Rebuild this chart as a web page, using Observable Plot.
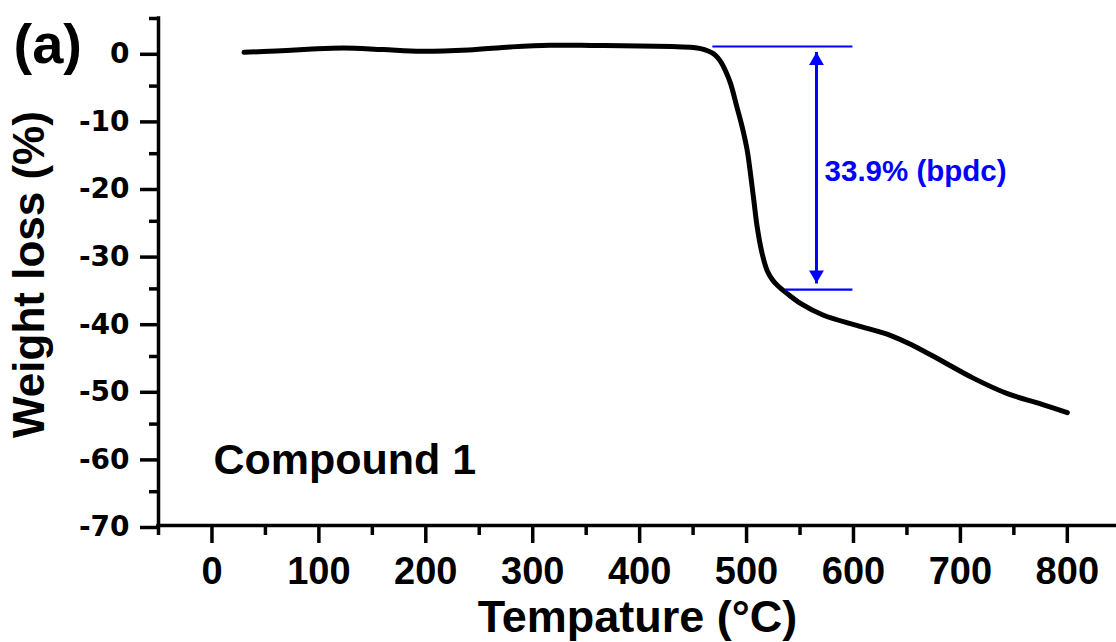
<!DOCTYPE html>
<html><head><meta charset="utf-8">
<script src="https://cdn.jsdelivr.net/npm/d3@7"></script>
<script src="https://cdn.jsdelivr.net/npm/@observablehq/plot@0.6"></script>
<style>html,body{margin:0;padding:0;background:#fff} svg{display:block}</style>
</head><body><div id="chart"></div>
<script>
// TGA curve (temperature °C, weight change %)
const temperature = [30, 60, 90, 123, 160, 196, 240, 280, 316, 360, 400, 430, 450, 457, 464, 469, 473, 477, 481, 485, 491, 496, 500.6, 503.7, 506.8, 510, 514.6, 519.3, 524, 529, 538, 550, 572, 603, 635, 656, 682, 712, 744, 775, 800];
const weightLoss  = [0, 0.2, 0.45, 0.65, 0.4, 0.15, 0.35, 0.8, 1.05, 1.0, 0.95, 0.85, 0.72, 0.55, 0.2, -0.2, -0.8, -1.7, -3.0, -4.6, -8.1, -11.1, -14.5, -18.0, -21.9, -25.9, -29.8, -32.3, -33.6, -34.5, -35.7, -37.1, -38.9, -40.4, -41.9, -43.4, -45.6, -48.2, -50.5, -52.0, -53.3];

const xTicks = [0, 100, 200, 300, 400, 500, 600, 700, 800];
const xMinor = [-50, 50, 150, 250, 350, 450, 550, 650, 750];
const yTicks = [0, -10, -20, -30, -40, -50, -60, -70];
const yMinor = [5, -5, -15, -25, -35, -45, -55, -65];

// annotation: step of 33.9 %
const levelStart = [468, 536];
const levelEnd = [599, 599];
const levelValue = [0.86, -35.1];
const arrowX = [565.4];
const arrowTop = [0.05];
const arrowBottom = [-34.2];
const stepLabel = ["33.9% (bpdc)"];
const stepLabelX = [573];
const stepLabelY = [-19];

const curve = temperature.map((t, i) => ({t, w: weightLoss[i]}));
const levels = levelStart.map((s, i) => ({x1: s, x2: levelEnd[i], y: levelValue[i]}));
const arrows = arrowX.map((x, i) => ({x, top: arrowTop[i], bottom: arrowBottom[i]}));
const labels = stepLabel.map((s, i) => ({s, x: stepLabelX[i], y: stepLabelY[i]}));

const blue = "#0000ff";
const bold = {fontWeight: "bold", fontFamily: "Liberation Sans"};
const plain = d => `${d}`;

const chart = Plot.plot({
  width: 1116,
  height: 642,
  marginLeft: 158,
  marginRight: 0,
  marginTop: 18,
  marginBottom: 117,
  style: {fontFamily: "Liberation Sans", background: "white", overflow: "visible"},
  x: {domain: [-50, 846]},
  y: {domain: [-70, 5]},
  marks: [
    Plot.axisX({ticks: xTicks, tickSize: 18, tickPadding: 14, strokeWidth: 3.5, fontSize: 38, ...bold, label: null, fill: "black", tickFormat: plain}),
    Plot.axisX({ticks: xMinor, tickSize: 10, strokeWidth: 3.5, tickFormat: () => "", label: null}),
    Plot.axisY({ticks: yTicks, tickSize: 18, tickPadding: 11, strokeWidth: 3.5, fontSize: 28, fontWeight: "bold", fontFamily: "DejaVu Sans", label: null, dy: 2, fill: "black", tickFormat: plain}),
    Plot.axisY({ticks: yMinor, tickSize: 9, strokeWidth: 3.5, tickFormat: () => "", label: null}),
    Plot.ruleX([-50], {strokeWidth: 3.5, strokeLinecap: "square"}),
    Plot.ruleY([-70], {strokeWidth: 3.5, strokeLinecap: "square"}),
    Plot.line(curve, {x: "t", y: "w", curve: "catmull-rom", stroke: "black", strokeWidth: 5, strokeLinecap: "round", strokeLinejoin: "round"}),
    Plot.link(levels, {x1: "x1", x2: "x2", y1: "y", y2: "y", stroke: blue, strokeWidth: 2.2}),
    Plot.link(arrows, {x1: "x", x2: "x", y1: "top", y2: "bottom", stroke: blue, strokeWidth: 3}),
    Plot.dot(arrows, {x: "x", y: "top", symbol: "triangle", r: 5.5, fill: blue, dy: 8.7}),
    Plot.dot(arrows, {x: "x", y: "bottom", symbol: "triangle", r: 5.5, fill: blue, dy: -8.7, rotate: 180}),
    Plot.text(labels, {x: "x", y: "y", text: "s", textAnchor: "start", lineAnchor: "bottom", fill: blue, fontSize: 29.5, ...bold}),
    Plot.text(["Tempature (°C)"], {frameAnchor: "bottom", textAnchor: "middle", lineAnchor: "bottom", dy: 106, fontSize: 45, ...bold, fill: "black"}),
    Plot.text(["Weight loss (%)"], {frameAnchor: "left", textAnchor: "middle", lineAnchor: "bottom", rotate: -90, dx: -115, dy: 2.5, fontSize: 44, ...bold, fill: "black"}),
    Plot.text(["Compound 1"], {frameAnchor: "bottom-left", textAnchor: "start", lineAnchor: "bottom", dx: 55, dy: -52, fontSize: 43, ...bold, fill: "black"}),
    Plot.text(["(a)"], {frameAnchor: "top-left", textAnchor: "start", lineAnchor: "bottom", dx: -145, dy: 44, fontSize: 56, ...bold, fill: "black"})
  ]
});
document.getElementById("chart").appendChild(chart);
</script>
</body></html>
